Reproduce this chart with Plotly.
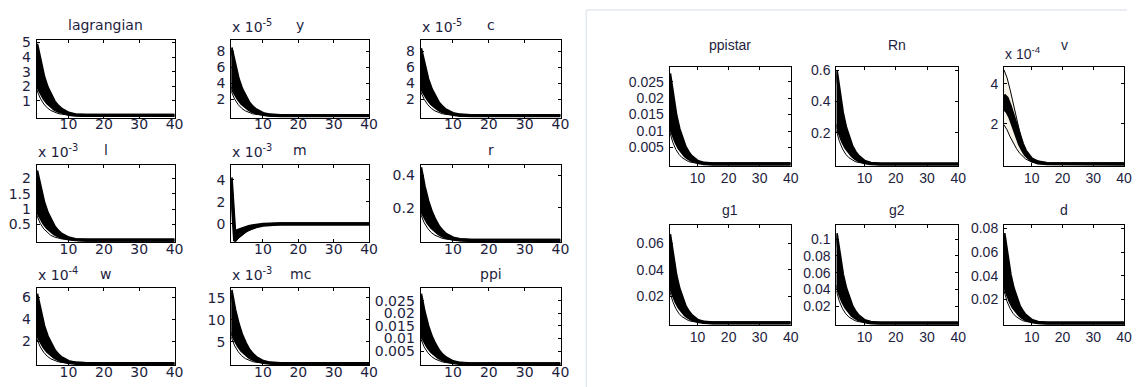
import plotly.graph_objects as go

W, H = 1136, 387

T = [1, 2, 3, 4, 5, 6, 7, 8, 10, 12, 15, 40]
X_TICKS = [10, 20, 30, 40]

# left figure
lagrangian_hi = [4.9, 3.63, 2.65, 1.91, 1.37, 0.93, 0.64, 0.42, 0.15, 0.04, 0, 0]
lagrangian_lo = [2.06, 1.57, 1.18, 0.86, 0.61, 0.43, 0.29, 0.2, 0.07, 0.02, 0, 0]
lagrangian_thin = [1.76, 1.18, 0.78, 0.51, 0.33, 0.21, 0.13, 0.08, 0.03, 0.005, 0, 0]

y_hi = [8.5, 6.29, 4.59, 3.32, 2.38, 1.62, 1.1, 0.72, 0.26, 0.07, 0, 0]
y_lo = [3.57, 2.72, 2.04, 1.49, 1.06, 0.75, 0.51, 0.34, 0.13, 0.03, 0, 0]
y_thin = [3.06, 2.04, 1.36, 0.89, 0.58, 0.37, 0.23, 0.14, 0.05, 0.01, 0, 0]

c_hi = [8.4, 6.22, 4.54, 3.28, 2.35, 1.6, 1.09, 0.71, 0.25, 0.07, 0, 0]
c_lo = [3.5, 2.69, 2.02, 1.47, 1.05, 0.74, 0.5, 0.34, 0.13, 0.03, 0, 0]
c_thin = [3.0, 2.02, 1.34, 0.88, 0.57, 0.36, 0.23, 0.14, 0.05, 0.01, 0, 0]

l_hi = [2.25, 1.67, 1.22, 0.88, 0.63, 0.43, 0.29, 0.19, 0.068, 0.018, 0, 0]
l_lo = [0.95, 0.72, 0.54, 0.39, 0.28, 0.2, 0.135, 0.09, 0.034, 0.009, 0, 0]
l_thin = [0.81, 0.54, 0.36, 0.24, 0.15, 0.097, 0.061, 0.038, 0.014, 0.002, 0, 0]

m_hi = [4.2, -0.75, -0.58, -0.45, -0.34, -0.25, -0.18, -0.12, -0.04, -0.01, 0, 0]
m_lo = [3.5, -1.55, -1.17, -0.88, -0.66, -0.49, -0.36, -0.26, -0.11, -0.04, 0, 0]
m_thin = [4.0, -1.6, -1.32, -1.03, -0.8, -0.6, -0.45, -0.33, -0.15, -0.05, 0, 0]

r_hi = [0.45, 0.333, 0.243, 0.176, 0.126, 0.086, 0.059, 0.038, 0.014, 0.004, 0, 0]
r_lo = [0.189, 0.144, 0.108, 0.079, 0.056, 0.04, 0.027, 0.018, 0.007, 0.002, 0, 0]
r_thin = [0.162, 0.108, 0.072, 0.047, 0.031, 0.019, 0.012, 0.008, 0.003, 0.0005, 0, 0]

w_hi = [6.3, 4.66, 3.4, 2.46, 1.76, 1.2, 0.82, 0.54, 0.19, 0.05, 0, 0]
w_lo = [2.65, 2.02, 1.51, 1.1, 0.79, 0.55, 0.38, 0.25, 0.09, 0.025, 0, 0]
w_thin = [2.27, 1.51, 1.01, 0.66, 0.43, 0.27, 0.17, 0.11, 0.04, 0.006, 0, 0]

mc_hi = [16.8, 12.4, 9.07, 6.55, 4.7, 3.19, 2.18, 1.43, 0.5, 0.13, 0, 0]
mc_lo = [7.06, 5.38, 4.03, 2.94, 2.1, 1.48, 1.01, 0.67, 0.25, 0.07, 0, 0]
mc_thin = [6.05, 4.03, 2.69, 1.76, 1.14, 0.72, 0.45, 0.29, 0.1, 0.02, 0, 0]

ppi_hi = [0.0277, 0.0205, 0.015, 0.0108, 0.0078, 0.0053, 0.0036, 0.0024, 0.00083, 0.00022, 0, 0]
ppi_lo = [0.0116, 0.0089, 0.0066, 0.0048, 0.0035, 0.0024, 0.0017, 0.0011, 0.00042, 0.00011, 0, 0]
ppi_thin = [0.01, 0.0066, 0.0044, 0.0029, 0.0019, 0.0012, 0.00075, 0.00047, 0.00017, 0.00003, 0, 0]

# right figure
ppistar_hi = [0.0275, 0.0204, 0.0149, 0.0107, 0.0077, 0.0052, 0.0036, 0.0023, 0.00083, 0.00022, 0, 0]
ppistar_lo = [0.0115, 0.0088, 0.0066, 0.0048, 0.0034, 0.0024, 0.0017, 0.0011, 0.00041, 0.00011, 0, 0]
ppistar_thin = [0.0099, 0.0066, 0.0044, 0.0029, 0.0019, 0.0012, 0.00074, 0.00047, 0.00017, 0.00003, 0, 0]

Rn_hi = [0.6, 0.444, 0.324, 0.234, 0.168, 0.114, 0.078, 0.051, 0.018, 0.005, 0, 0]
Rn_lo = [0.252, 0.192, 0.144, 0.105, 0.075, 0.053, 0.036, 0.024, 0.009, 0.0024, 0, 0]
Rn_thin = [0.216, 0.144, 0.096, 0.063, 0.041, 0.026, 0.016, 0.01, 0.0036, 0.0006, 0, 0]

v_top = [4.7, 4.3, 3.7, 3.0, 2.3, 1.6, 1.0, 0.6, 0.2, 0.07, 0.02, 0]
v_hi = [3.45, 3.3, 2.9, 2.4, 1.9, 1.4, 1.0, 0.65, 0.25, 0.1, 0.02, 0]
v_lo = [2.75, 2.6, 2.3, 1.85, 1.4, 1.0, 0.7, 0.45, 0.16, 0.05, 0.01, 0]
v_bot = [1.95, 1.7, 1.35, 1.05, 0.78, 0.55, 0.38, 0.25, 0.09, 0.03, 0.005, 0]

g1_hi = [0.067, 0.0496, 0.0362, 0.0261, 0.0188, 0.0127, 0.0087, 0.0057, 0.002, 0.0005, 0, 0]
g1_lo = [0.0281, 0.0214, 0.0161, 0.0117, 0.0084, 0.0059, 0.004, 0.0027, 0.001, 0.0003, 0, 0]
g1_thin = [0.0241, 0.0161, 0.0107, 0.007, 0.0046, 0.0029, 0.0018, 0.0011, 0.0004, 0.0001, 0, 0]

g2_hi = [0.107, 0.0792, 0.0578, 0.0417, 0.03, 0.0203, 0.0139, 0.0091, 0.0032, 0.0009, 0, 0]
g2_lo = [0.0449, 0.0342, 0.0257, 0.0187, 0.0134, 0.0094, 0.0064, 0.0043, 0.0016, 0.0004, 0, 0]
g2_thin = [0.0385, 0.0257, 0.0171, 0.0112, 0.0073, 0.0046, 0.0029, 0.0018, 0.0006, 0.0001, 0, 0]

d_hi = [0.076, 0.0562, 0.041, 0.0296, 0.0213, 0.0144, 0.0099, 0.0065, 0.0023, 0.0006, 0, 0]
d_lo = [0.0319, 0.0243, 0.0182, 0.0133, 0.0095, 0.0067, 0.0046, 0.003, 0.0011, 0.0003, 0, 0]
d_thin = [0.0274, 0.0182, 0.0122, 0.008, 0.0052, 0.0033, 0.0021, 0.0013, 0.0005, 0.0001, 0, 0]

# (title, hi, lo, thin, yticks, ytick labels, yrange, exponent)
PANELS = [
    ("lagrangian", lagrangian_hi, lagrangian_lo, lagrangian_thin,
     [1, 2, 3, 4, 5], ["1", "2", "3", "4", "5"], [-0.15, 5.2], None),
    ("y", y_hi, y_lo, y_thin, [2, 4, 6, 8], ["2", "4", "6", "8"], [-0.25, 9.5], "-5"),
    ("c", c_hi, c_lo, c_thin, [2, 4, 6, 8], ["2", "4", "6", "8"], [-0.25, 9.5], "-5"),
    ("l", l_hi, l_lo, l_thin, [0.5, 1, 1.5, 2], ["0.5", "1", "1.5", "2"], [-0.06, 2.43], "-3"),
    ("m", m_hi, m_lo, m_thin, [0, 2, 4], ["0", "2", "4"], [-1.63, 5.33], "-3"),
    ("r", r_hi, r_lo, r_thin, [0.2, 0.4], ["0.2", "0.4"], [-0.01, 0.465], None),
    ("w", w_hi, w_lo, w_thin, [2, 4, 6], ["2", "4", "6"], [-0.15, 6.8], "-4"),
    ("mc", mc_hi, mc_lo, mc_thin, [5, 10, 15], ["5", "10", "15"], [-0.4, 17.2], "-3"),
    ("ppi", ppi_hi, ppi_lo, ppi_thin, [0.005, 0.01, 0.015, 0.02, 0.025],
     ["0.005", "0.01", "0.015", "0.02", "0.025"], [-0.0006, 0.0299], None),
    ("ppistar", ppistar_hi, ppistar_lo, ppistar_thin, [0.005, 0.01, 0.015, 0.02, 0.025],
     ["0.005", "0.01", "0.015", "0.02", "0.025"], [-0.0006, 0.0294], None),
    ("Rn", Rn_hi, Rn_lo, Rn_thin, [0.2, 0.4, 0.6], ["0.2", "0.4", "0.6"], [-0.012, 0.62], None),
    ("v", v_hi, v_lo, None, [2, 4], ["2", "4"], [-0.1, 4.83], "-4"),
    ("g1", g1_hi, g1_lo, g1_thin, [0.02, 0.04, 0.06], ["0.02", "0.04", "0.06"], [-0.0015, 0.0738], None),
    ("g2", g2_hi, g2_lo, g2_thin, [0.02, 0.04, 0.06, 0.08, 0.1],
     ["0.02", "0.04", "0.06", "0.08", "0.1"], [-0.002, 0.1167], None),
    ("d", d_hi, d_lo, d_thin, [0.02, 0.04, 0.06, 0.08],
     ["0.02", "0.04", "0.06", "0.08"], [-0.0015, 0.0828], None),
]

# plot boxes in pixels: x0, x1, y0 (top), y1 (bottom), title offset above the box
LEFT_COLS = [(37, 176), (233, 372), (424, 565)]
LEFT_ROWS = [(35, 114, 15), (162, 240, 15), (287, 365, 14)]
RIGHT_COLS = [(675, 797), (843, 966), (1012, 1133)]
RIGHT_ROWS = [(63, 163, 22), (223, 324, 15)]

boxes = []
for r in LEFT_ROWS:
    for c in LEFT_COLS:
        boxes.append((c[0], c[1], r[0], r[1], r[2], "left"))
for r in RIGHT_ROWS:
    for c in RIGHT_COLS:
        boxes.append((c[0], c[1], r[0], r[1], r[2], "right"))

TEXT = "#1e1e40"
FONTS = {
    "left": dict(family="DejaVu Sans", size=14, color=TEXT),
    "right": dict(family="Liberation Sans, Arial", size=14, color=TEXT),
}

fig = go.Figure()
annotations = []
layout = {}

for i, (panel, box) in enumerate(zip(PANELS, boxes)):
    title, hi, lo, thin, yticks, ylabels, yrange, expo = panel
    x0, x1, y0, y1, toff, side = box
    font = FONTS[side]
    n = i + 1
    xa, ya = f"x{n}", f"y{n}"

    if title == "v":
        # outer draws with a pale band between them
        fig.add_trace(go.Scatter(x=T, y=v_top, mode="lines", xaxis=xa, yaxis=ya,
                                 line=dict(color="black", width=1)))
        fig.add_trace(go.Scatter(x=T, y=v_bot, mode="lines", xaxis=xa, yaxis=ya,
                                 line=dict(color="black", width=1),
                                 fill="tonexty", fillcolor="#f8f3e8"))
    fig.add_trace(go.Scatter(x=T, y=hi, mode="lines", xaxis=xa, yaxis=ya,
                             line=dict(color="black", width=3.2)))
    fig.add_trace(go.Scatter(x=T, y=lo, mode="lines", xaxis=xa, yaxis=ya,
                             line=dict(color="black", width=3.2),
                             fill="tonexty", fillcolor="black"))
    if thin is not None:
        fig.add_trace(go.Scatter(x=T, y=thin, mode="lines", xaxis=xa, yaxis=ya,
                                 line=dict(color="black", width=1)))

    common = dict(
        showline=True, linecolor="black", linewidth=1, mirror="ticks",
        ticks="inside", ticklen=3, tickcolor="black", tickwidth=1,
        showgrid=False, zeroline=False, tickfont=font, fixedrange=True,
    )
    layout[f"xaxis{n}"] = dict(
        common, domain=[x0 / W, x1 / W], range=[1, 40], tickvals=X_TICKS,
        anchor=ya, ticklabelstandoff=-6 if side == "left" else -1,
    )
    layout[f"yaxis{n}"] = dict(
        common, domain=[1 - y1 / H, 1 - y0 / H], range=yrange,
        tickvals=yticks, ticktext=ylabels, anchor=xa, ticklabelstandoff=2,
    )

    annotations.append(dict(
        text=title, x=(x0 + x1) / 2 / W, y=1 - (y0 - toff) / H, xref="paper", yref="paper",
        xanchor="center", yanchor="middle", showarrow=False, font=font,
    ))
    if expo:
        annotations.append(dict(
            text=f"x 10<sup>{expo}</sup>", x=(x0 - 1) / W, y=1 - (y0 - 3) / H,
            xref="paper", yref="paper", xanchor="left", yanchor="bottom",
            showarrow=False, font=font,
        ))

border = "#e3e9f1"
shapes = [
    dict(type="line", xref="paper", yref="paper", x0=591 / W, x1=591 / W,
         y0=0, y1=1 - 5 / H, line=dict(color=border, width=1.5)),
    dict(type="line", xref="paper", yref="paper", x0=591 / W, x1=1,
         y0=1 - 5 / H, y1=1 - 5 / H, line=dict(color=border, width=1.5)),
]

fig.update_layout(
    width=W, height=H, margin=dict(l=0, r=0, t=0, b=0),
    paper_bgcolor="white", plot_bgcolor="white", showlegend=False,
    annotations=annotations, shapes=shapes, **layout,
)

fig.write_html("out.html", config={"displayModeBar": False},
               post_script="document.body.style.margin='0';")
